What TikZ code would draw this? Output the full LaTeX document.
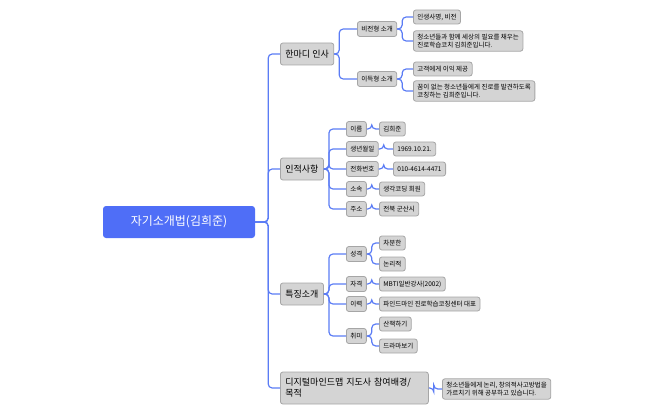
\documentclass[tikz,border=0pt]{standalone}
\usepackage{fontspec}
\setmainfont{Noto Sans CJK KR}
\usetikzlibrary{positioning}
\definecolor{boxfill}{HTML}{D4D4D4}
\definecolor{boxline}{HTML}{A6A6A6}
\definecolor{linkblue}{HTML}{5B7CF5}
\definecolor{rootblue}{HTML}{4F6EF7}
\tikzset{
 box/.style={draw=boxline,fill=boxfill,rounded corners=2.5pt,line width=0.8pt,inner sep=0pt,align=left},
 rootbox/.style={fill=rootblue,rounded corners=3pt,text=white,font=\fontsize{12}{14}\selectfont,minimum width=152pt,minimum height=32pt},
 lone/.style={box,font=\fontsize{9}{12}\selectfont,minimum height=22pt,inner xsep=5pt},
 ltwo/.style={box,font=\fontsize{6.5}{8}\selectfont,minimum height=15pt,inner xsep=4pt},
 lthree/.style={box,font=\fontsize{6.5}{8.5}\selectfont,minimum height=14pt,inner xsep=4pt,inner ysep=3pt},
 conn/.style={draw=linkblue,line width=1.2pt,rounded corners=4pt}
}
\newcommand{\lnk}[3]{\draw[conn] (#1.east) -- ++(#3pt,0) |- (#2.west);}
\begin{document}
\begin{tikzpicture}[x=1pt,y=-1pt]
\useasboundingbox (0,0) rectangle (668,414);
\node[rootbox] (root) at (179,222) {자기소개법(김희준)};
\node[lone,anchor=west] (a) at (280,54) {한마디 인사};
\node[lone,anchor=west] (b) at (280,169) {인적사항};
\node[lone,anchor=west] (c) at (280,294) {특징소개};
\node[lone,anchor=west,minimum width=148pt,minimum height=32pt,align=left,text width=138pt,font=\fontsize{9}{11}\selectfont] (d) at (280,388) {디지털마인드맵 지도사 참여배경/\\목적};
% a
\node[ltwo,anchor=west] (a1) at (357,29) {비전형 소개};
\node[ltwo,anchor=west] (a2) at (357,79) {이득형 소개};
\node[lthree,anchor=west] (a11) at (413,17) {인생사명, 비전};
\node[lthree,anchor=west] (a12) at (413,41) {청소년들과 함께 세상의 필요를 채우는\\진로학습코치 김희준입니다.};
\node[lthree,anchor=west] (a21) at (413,69) {고객에게 이익 제공};
\node[lthree,anchor=west] (a22) at (413,91) {꿈이 없는 청소년들에게 진로를 발견하도록\\코칭하는 김희준입니다.};
% b
\node[ltwo,anchor=west] (b1) at (346,129) {이름};
\node[ltwo,anchor=west] (b2) at (346,149) {생년월일};
\node[ltwo,anchor=west] (b3) at (346,169) {전화번호};
\node[ltwo,anchor=west] (b4) at (346,189) {소속};
\node[ltwo,anchor=west] (b5) at (346,209) {주소};
\node[lthree,anchor=west] (b11) at (379,129) {김희준};
\node[lthree,anchor=west] (b21) at (393,149) {1969.10.21.};
\node[lthree,anchor=west] (b31) at (393,169) {010-4614-4471};
\node[lthree,anchor=west] (b41) at (379,189) {생각코딩 회원};
\node[lthree,anchor=west] (b51) at (379,209) {전북 군산시};
% c
\node[ltwo,anchor=west] (c1) at (346,254) {성격};
\node[ltwo,anchor=west] (c2) at (346,284) {자격};
\node[ltwo,anchor=west] (c3) at (346,304) {이력};
\node[ltwo,anchor=west] (c4) at (346,336) {취미};
\node[lthree,anchor=west] (c11) at (379,243) {차분한};
\node[lthree,anchor=west] (c12) at (379,264) {논리적};
\node[lthree,anchor=west] (c21) at (379,284) {MBTI일반강사(2002)};
\node[lthree,anchor=west] (c31) at (379,304) {파인드마인 진로학습코칭센터 대표};
\node[lthree,anchor=west] (c41) at (379,324) {산책하기};
\node[lthree,anchor=west] (c42) at (379,346) {드라마보기};
% d
\node[lthree,anchor=west] (d1) at (442,389) {청소년들에게 논리, 창의적사고방법을\\가르치기 위해 공부하고 있습니다.};
% links
\foreach \t in {a,b,c,d} {\lnk{root}{\t}{13}}
\lnk{a}{a1}{5} \lnk{a}{a2}{5}
\lnk{a1}{a11}{5} \lnk{a1}{a12}{5}
\lnk{a2}{a21}{5} \lnk{a2}{a22}{5}
\foreach \t in {b1,b2,b3,b4,b5} {\lnk{b}{\t}{5}}
\lnk{b1}{b11}{5} \lnk{b2}{b21}{5} \lnk{b3}{b31}{5} \lnk{b4}{b41}{5} \lnk{b5}{b51}{5}
\foreach \t in {c1,c2,c3,c4} {\lnk{c}{\t}{5}}
\lnk{c1}{c11}{5} \lnk{c1}{c12}{5} \lnk{c2}{c21}{5} \lnk{c3}{c31}{5}
\lnk{c4}{c41}{5} \lnk{c4}{c42}{5}
\lnk{d}{d1}{5}
\end{tikzpicture}
\end{document}
